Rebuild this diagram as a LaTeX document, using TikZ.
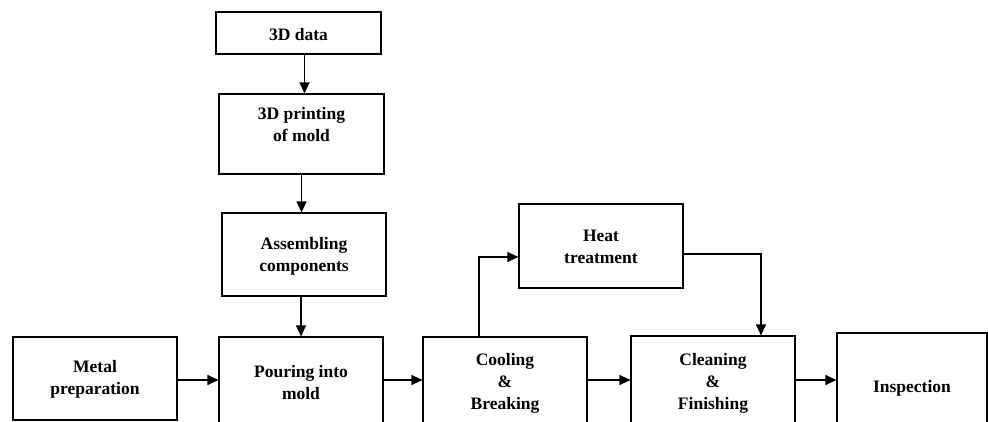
\documentclass[tikz,border=0pt]{standalone}
\usepackage{fontspec}
\setmainfont{Liberation Serif}
\usetikzlibrary{arrows.meta,calc}
\begin{document}
\begin{tikzpicture}[x=1pt,y=-1pt,
  box/.style={draw,line width=1.2pt,inner sep=0pt,rectangle},
  lbl/.style={align=center,font=\fontsize{17.5}{22}\selectfont\bfseries,inner sep=0pt},
  arr/.style={line width=1.2pt,-{Triangle[length=11pt,width=10pt]}}]
\clip (0,0) rectangle (988,421);
% boxes
\node[box,minimum width=165pt,minimum height=42pt] (data) at (298.5,33) {};
\node[box,minimum width=165pt,minimum height=80pt] (print) at (301.5,134) {};
\node[box,minimum width=164pt,minimum height=83pt] (assem) at (304,254.5) {};
\node[box,minimum width=164pt,minimum height=83pt] (metal) at (95,378.5) {};
\node[box,minimum width=164pt,minimum height=100pt] (pour) at (301,387) {};
\node[box,minimum width=164pt,minimum height=100pt] (cool) at (505,387) {};
\node[box,minimum width=164pt,minimum height=100pt] (clean) at (713,386) {};
\node[box,minimum width=150pt,minimum height=100pt] (insp) at (912,383) {};
\node[box,minimum width=164pt,minimum height=84pt] (heat) at (601,246) {};
% texts
\node[lbl] (tdata) at (298.5,35) {3D data};
\node[lbl] (tprint) at (301.5,125) {3D printing\\of mold};
\node[lbl] (tassem) at (304,256) {Assembling\\components};
\node[lbl] (tmetal) at (95,379) {Metal\\preparation};
\node[lbl] (tpour) at (301,382.5) {Pouring into\\mold};
\node[lbl] (tcool) at (505,383.5) {Cooling\\\&\\Breaking};
\node[lbl] (tclean) at (713,383.5) {Cleaning\\\&\\Finishing};
\node[lbl] (tinsp) at (912,388) {Inspection};
\node[lbl] (theat) at (601,247) {Heat\\treatment};
% connectors
\coordinate (row) at (0,380);
\draw[arr] ([xshift=3pt]print.north |- data.south) -- ([xshift=3pt]print.north);
\draw[arr] (print.south) -- (print.south |- assem.north);
\draw[arr] (pour.north |- assem.south) -- (pour.north);
\draw[arr] (metal.east |- row) -- (pour.west |- row);
\draw[arr] (pour.east |- row) -- (cool.west |- row);
\draw[arr] (cool.east |- row) -- (clean.west |- row);
\draw[arr] (clean.east |- row) -- (insp.west |- row);
\draw[arr] ([xshift=-26pt]cool.north) |- ([yshift=-11pt]heat.west);
\draw[arr] ([yshift=-8pt]heat.east) -| ([xshift=48pt]clean.north);
\end{tikzpicture}
\end{document}
